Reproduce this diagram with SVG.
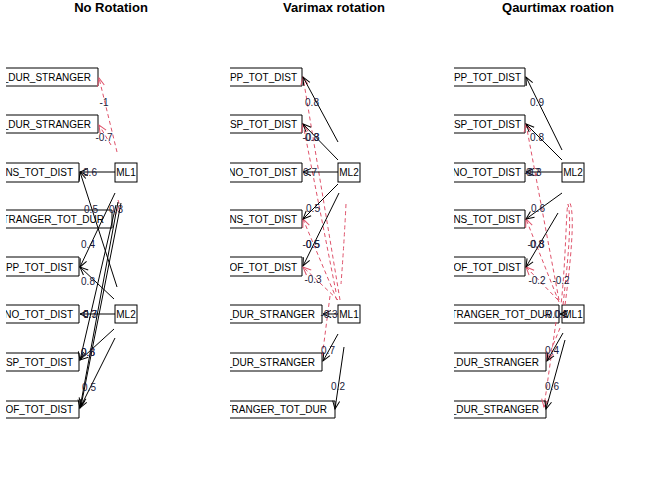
<svg xmlns="http://www.w3.org/2000/svg" width="672" height="480" viewBox="0 0 672 480">
<style>
.bg{fill:#fff}
.box{fill:none;stroke:#000;stroke-width:1}
.t{font-family:"Liberation Sans",Arial,sans-serif;font-size:10px;fill:#000}
.tt{font-family:"Liberation Sans",Arial,sans-serif;font-size:13px;font-weight:bold;fill:#000;text-anchor:middle}
.lbl{font-family:"Liberation Sans",Arial,sans-serif;font-size:10px;fill:#1a1a3a;text-anchor:middle}
.pos{stroke:#000;stroke-width:1;fill:none;marker-end:url(#ab)}
.neg{stroke:#DF536B;stroke-width:1;fill:none;stroke-dasharray:4 3;marker-end:url(#ar)}
.negn{stroke:#DF536B;stroke-width:1;fill:none;stroke-dasharray:4 3}
</style>
<defs>
<marker id="ab" viewBox="-10 -5 12 10" refX="0" refY="0" markerWidth="12" markerHeight="10" markerUnits="userSpaceOnUse" orient="auto"><path d="M-8,-3.5 L0,0 L-8,3.5" fill="none" stroke="#000" stroke-width="1"/></marker>
<marker id="ar" viewBox="-10 -5 12 10" refX="0" refY="0" markerWidth="12" markerHeight="10" markerUnits="userSpaceOnUse" orient="auto"><path d="M-8,-3.5 L0,0 L-8,3.5" fill="none" stroke="#DF536B" stroke-width="1"/></marker>
<clipPath id="c1"><rect x="6" y="20" width="218" height="440"/></clipPath>
<clipPath id="c2"><rect x="230" y="20" width="218" height="440"/></clipPath>
<clipPath id="c3"><rect x="454" y="20" width="218" height="440"/></clipPath>
</defs>
<rect class="bg" x="0" y="0" width="672" height="480"/>

<text class="tt" x="111" y="12">No Rotation</text>
<text class="tt" x="334" y="12">Varimax rotation</text>
<text class="tt" x="558" y="12">Qaurtimax roation</text>

<!-- Panel 1 nodes -->
<g clip-path="url(#c1)">
<g id="p1-v1"><path class="box" d="M6,68 H98 V86 H6"/><text class="t" x="91" y="80.5" text-anchor="end">_DUR_STRANGER</text></g>
<g id="p1-v2"><path class="box" d="M6,115 H98 V133 H6"/><text class="t" x="91" y="128" text-anchor="end">_DUR_STRANGER</text></g>
<g id="p1-v3"><path class="box" d="M6,163 H79 V182 H6"/><text class="t" x="73" y="176" text-anchor="end">NS_TOT_DIST</text></g>
<g id="p1-v4"><path class="box" d="M6,210 H112 V228 H6"/><text class="t" x="104" y="223" text-anchor="end">TRANGER_TOT_DUR</text></g>
<g id="p1-v5"><path class="box" d="M6,257 H79 V276 H6"/><text class="t" x="73" y="270.5" text-anchor="end">PP_TOT_DIST</text></g>
<g id="p1-v6"><path class="box" d="M6,305 H79 V323 H6"/><text class="t" x="73" y="318" text-anchor="end">NO_TOT_DIST</text></g>
<g id="p1-v7"><path class="box" d="M6,353 H79 V371 H6"/><text class="t" x="73" y="365.5" text-anchor="end">SP_TOT_DIST</text></g>
<g id="p1-v8"><path class="box" d="M6,401 H79 V418 H6"/><text class="t" x="73" y="413" text-anchor="end">OF_TOT_DIST</text></g>
</g>
<g id="p1-ML1"><rect class="box" x="115" y="163" width="22" height="19"/><text class="t" x="126" y="176" text-anchor="middle">ML1</text></g>
<g id="p1-ML2"><rect class="box" x="115" y="305" width="22" height="18"/><text class="t" x="126" y="318" text-anchor="middle">ML2</text></g>

<!-- Panel 2 nodes -->
<g clip-path="url(#c2)">
<g id="p2-v1"><path class="box" d="M230,68 H302 V86 H230"/><text class="t" x="297" y="80.5" text-anchor="end">PP_TOT_DIST</text></g>
<g id="p2-v2"><path class="box" d="M230,115 H302 V133 H230"/><text class="t" x="297" y="128" text-anchor="end">SP_TOT_DIST</text></g>
<g id="p2-v3"><path class="box" d="M230,163 H302 V182 H230"/><text class="t" x="297" y="176" text-anchor="end">NO_TOT_DIST</text></g>
<g id="p2-v4"><path class="box" d="M230,210 H302 V228 H230"/><text class="t" x="297" y="223" text-anchor="end">NS_TOT_DIST</text></g>
<g id="p2-v5"><path class="box" d="M230,257 H302 V276 H230"/><text class="t" x="297" y="270.5" text-anchor="end">OF_TOT_DIST</text></g>
<g id="p2-v6"><path class="box" d="M230,305 H322 V323 H230"/><text class="t" x="315" y="318" text-anchor="end">_DUR_STRANGER</text></g>
<g id="p2-v7"><path class="box" d="M230,353 H322 V371 H230"/><text class="t" x="315" y="365.5" text-anchor="end">_DUR_STRANGER</text></g>
<g id="p2-v8"><path class="box" d="M230,401 H335 V418 H230"/><text class="t" x="327" y="413" text-anchor="end">TRANGER_TOT_DUR</text></g>
</g>
<g id="p2-ML2"><rect class="box" x="338" y="163" width="22" height="19"/><text class="t" x="349" y="176" text-anchor="middle">ML2</text></g>
<g id="p2-ML1"><rect class="box" x="338" y="305" width="22" height="18"/><text class="t" x="349" y="318" text-anchor="middle">ML1</text></g>

<!-- Panel 3 nodes -->
<g clip-path="url(#c3)">
<g id="p3-v1"><path class="box" d="M454,68 H525 V86 H454"/><text class="t" x="521" y="80.5" text-anchor="end">PP_TOT_DIST</text></g>
<g id="p3-v2"><path class="box" d="M454,115 H525 V133 H454"/><text class="t" x="521" y="128" text-anchor="end">SP_TOT_DIST</text></g>
<g id="p3-v3"><path class="box" d="M454,163 H525 V182 H454"/><text class="t" x="521" y="176" text-anchor="end">NO_TOT_DIST</text></g>
<g id="p3-v4"><path class="box" d="M454,210 H525 V228 H454"/><text class="t" x="521" y="223" text-anchor="end">NS_TOT_DIST</text></g>
<g id="p3-v5"><path class="box" d="M454,257 H525 V276 H454"/><text class="t" x="521" y="270.5" text-anchor="end">OF_TOT_DIST</text></g>
<g id="p3-v6"><path class="box" d="M454,305 H559 V323 H454"/><text class="t" x="552" y="318" text-anchor="end">TRANGER_TOT_DUR</text></g>
<g id="p3-v7"><path class="box" d="M454,353 H546 V371 H454"/><text class="t" x="539" y="365.5" text-anchor="end">_DUR_STRANGER</text></g>
<g id="p3-v8"><path class="box" d="M454,401 H546 V418 H454"/><text class="t" x="539" y="413" text-anchor="end">_DUR_STRANGER</text></g>
</g>
<g id="p3-ML2"><rect class="box" x="562" y="163" width="22" height="19"/><text class="t" x="573" y="176" text-anchor="middle">ML2</text></g>
<g id="p3-ML1"><rect class="box" x="562" y="305" width="22" height="18"/><text class="t" x="573" y="318" text-anchor="middle">ML1</text></g>

<g id="connectors">
<!-- panel 1 -->
<path class="neg" d="M117,152 L99,78"/>
<path class="neg" d="M111,145 L99,125"/>
<path class="negn" d="M118,200 Q121,206 115,215"/>
<path class="pos" d="M115,172 L80,172"/>
<path class="pos" d="M117,287 L80,172"/>
<path class="pos" d="M115,193 L80,267"/>
<path class="pos" d="M114,299 L80,267"/>
<path class="pos" d="M115,314 L80,314"/>
<path class="pos" d="M116,205 L80,360"/>
<path class="pos" d="M118,202 L80,408"/>
<path class="pos" d="M121,203 L81,406"/>
<path class="pos" d="M114,329 L80,360"/>
<path class="pos" d="M115,338 L80,408"/>
<!-- panel 2 -->
<path class="neg" d="M340,300 L303,77"/>
<path class="neg" d="M336,292 L303,124"/>
<path class="negn" d="M346,204 Q344,245 341,284"/>
<path class="neg" d="M337,300 L303,219"/>
<path class="neg" d="M338,300 L303,267"/>
<path class="negn" d="M330,296 L322,358"/>
<path class="pos" d="M338,142 L303,77"/>
<path class="pos" d="M338,160 L303,124"/>
<path class="pos" d="M338,172 L303,172"/>
<path class="pos" d="M338,184 L303,219"/>
<path class="pos" d="M339,193 L303,266"/>
<path class="pos" d="M338,314 L323,314"/>
<path class="pos" d="M338,334 L323,361"/>
<path class="pos" d="M344,347 L335,409"/>
<!-- panel 3 -->
<path class="neg" d="M559,300 L526,124"/>
<path class="neg" d="M559,302 L526,219"/>
<path class="neg" d="M558,300 L526,267"/>
<path class="negn" d="M563,305 C568,260 572,220 568,204 C566,210 566,260 561,305"/>
<path class="negn" d="M565,305 C571,260 575,215 570,203"/>
<path class="neg" d="M560,328 L547,360"/>
<path class="neg" d="M556,322 L544,407"/>
<path class="pos" d="M562,150 L526,77"/>
<path class="pos" d="M562,160 L526,124"/>
<path class="pos" d="M562,172 L526,172"/>
<path class="pos" d="M562,193 L526,219"/>
<path class="pos" d="M558,213 L526,267"/>
<path class="pos" d="M567,314 L560,314"/>
<path class="pos" d="M563,333 L547,361"/>
<path class="pos" d="M565,340 L546,409"/>
</g>

<g id="labels">
<text class="lbl" x="104" y="106">-1</text>
<text class="lbl" x="104" y="141">-0.7</text>
<text class="lbl" x="90" y="176">0.6</text>
<text class="lbl" x="91" y="213">0.5</text>
<text class="lbl" x="116" y="213">0.3</text>
<text class="lbl" x="88" y="248">0.4</text>
<text class="lbl" x="88" y="285">0.8</text>
<text class="lbl" x="90" y="318">0.7</text>
<text class="lbl" x="90" y="318">0.3</text>
<text class="lbl" x="88" y="356">0.8</text>
<text class="lbl" x="88" y="356">0.6</text>
<text class="lbl" x="89" y="391">0.5</text>

<text class="lbl" x="312" y="106">0.8</text>
<text class="lbl" x="311" y="141">-0.3</text>
<text class="lbl" x="312" y="141">0.8</text>
<text class="lbl" x="310" y="176">0.7</text>
<text class="lbl" x="313" y="212">0.5</text>
<text class="lbl" x="311" y="248">-0.5</text>
<text class="lbl" x="313" y="248">0.5</text>
<text class="lbl" x="313" y="283">-0.3</text>
<text class="lbl" x="329" y="318">-0.3</text>
<text class="lbl" x="328" y="354">0.7</text>
<text class="lbl" x="338" y="390">0.2</text>

<text class="lbl" x="537" y="106">0.9</text>
<text class="lbl" x="537" y="141">0.8</text>
<text class="lbl" x="533" y="176">0.7</text>
<text class="lbl" x="533" y="176">-0.3</text>
<text class="lbl" x="538" y="212">0.6</text>
<text class="lbl" x="537" y="248">0.8</text>
<text class="lbl" x="536" y="248">-0.3</text>
<text class="lbl" x="537" y="284">-0.2</text>
<text class="lbl" x="561" y="284">-0.2</text>
<text class="lbl" x="552" y="318">-0.0</text>
<text class="lbl" x="561" y="318">0.2</text>
<text class="lbl" x="552" y="354">0.4</text>
<text class="lbl" x="552" y="390">0.6</text>
</g>
</svg>
